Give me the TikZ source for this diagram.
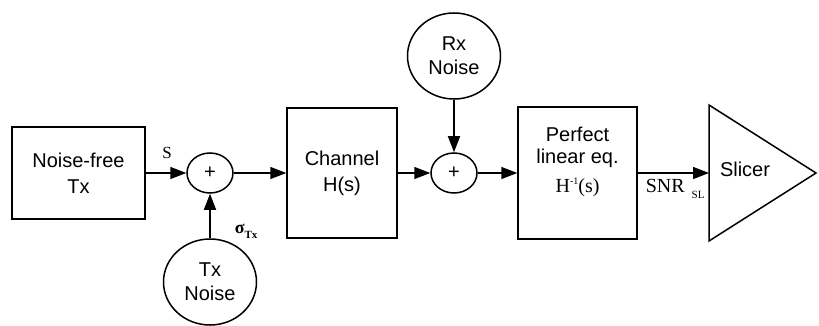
\documentclass[tikz,border=0pt]{standalone}
\usepackage{fontspec}
\setmainfont{Liberation Sans}
\newfontfamily\serifrm{Liberation Serif}
\usetikzlibrary{arrows.meta, positioning, shapes.geometric}

\begin{document}
\begin{tikzpicture}[
    x=1pt, y=-1pt,
    line width=1.5pt,
    blk/.style={rectangle, draw, align=center, inner sep=0pt,
                font=\fontsize{20}{26}\selectfont},
    sum/.style={ellipse, draw, minimum width=46pt, minimum height=40pt,
                inner sep=0pt, font=\fontsize{20}{24}\selectfont},
    src/.style={ellipse, draw, minimum width=93pt, minimum height=86pt,
                inner sep=0pt, align=center, font=\fontsize{20}{24}\selectfont},
    lbl/.style={inner sep=0pt, font=\serifrm\fontsize{20}{24}\selectfont},
    arrow/.style={-{Triangle[length=16pt, width=12pt]}, line width=1.5pt}
]
\useasboundingbox (0,0) rectangle (819,326);

% forward path
\node[blk, minimum width=133pt, minimum height=92pt] (tx) at (78.5,173) {Noise-free\\Tx};
\node[sum] (sumtx) at (210,173) {+};
\node[blk, minimum width=110pt, minimum height=130pt] (chan) at (342,173) {Channel\\H(s)};
\node[sum] (sumrx) at (454,173) {+};
\node[blk, minimum width=119pt, minimum height=132pt] (eq) at (577.5,173) {};
\node[anchor=base, inner sep=0pt, font=\fontsize{20}{24}\selectfont] (eqtop) at (577.5,142) {Perfect};
\node[anchor=base, inner sep=0pt, font=\fontsize{20}{24}\selectfont] (eqmid) at (577.5,163) {linear eq.};
\node[lbl, anchor=base] (eqinv) at (577.5,192) {H\raisebox{8pt}{\fontsize{10}{12}\selectfont -1}(s)};

% slicer
\draw[line join=miter] (709,105) -- (816,173) -- (709,241) -- cycle;
\coordinate (slin) at (709,173);
\node[inner sep=0pt, font=\fontsize{20}{24}\selectfont] (slicer) at (745,169) {Slicer};

% noise sources
\node[src] (txnoise) at (210,282) {Tx\\Noise};
\node[src] (rxnoise) at (454,56) {Rx\\Noise};

% labels
\node[lbl, anchor=base, font=\serifrm\fontsize{17}{20}\selectfont] (slab) at (167,158) {S};
\node[lbl, anchor=base west, font=\serifrm\bfseries\fontsize{18}{20}\selectfont] (sigtx) at (234,233.5)
    {σ\raisebox{-4.5pt}{\fontsize{11}{12}\selectfont Tx}};
\node[lbl, anchor=base west] (snr) at (645,192)
    {SNR\hspace{7pt}\raisebox{-6pt}{\fontsize{11}{12}\selectfont SL}};

\draw[arrow] (tx) -- (sumtx);
\draw[arrow] (sumtx) -- (chan);
\draw[arrow] (chan) -- (sumrx);
\draw[arrow] (sumrx) -- (eq);
\draw[arrow] (eq.east) -- (slin);
\draw[arrow] (txnoise) -- (sumtx);
\draw[arrow] (rxnoise) -- (sumrx);

\end{tikzpicture}
\end{document}
